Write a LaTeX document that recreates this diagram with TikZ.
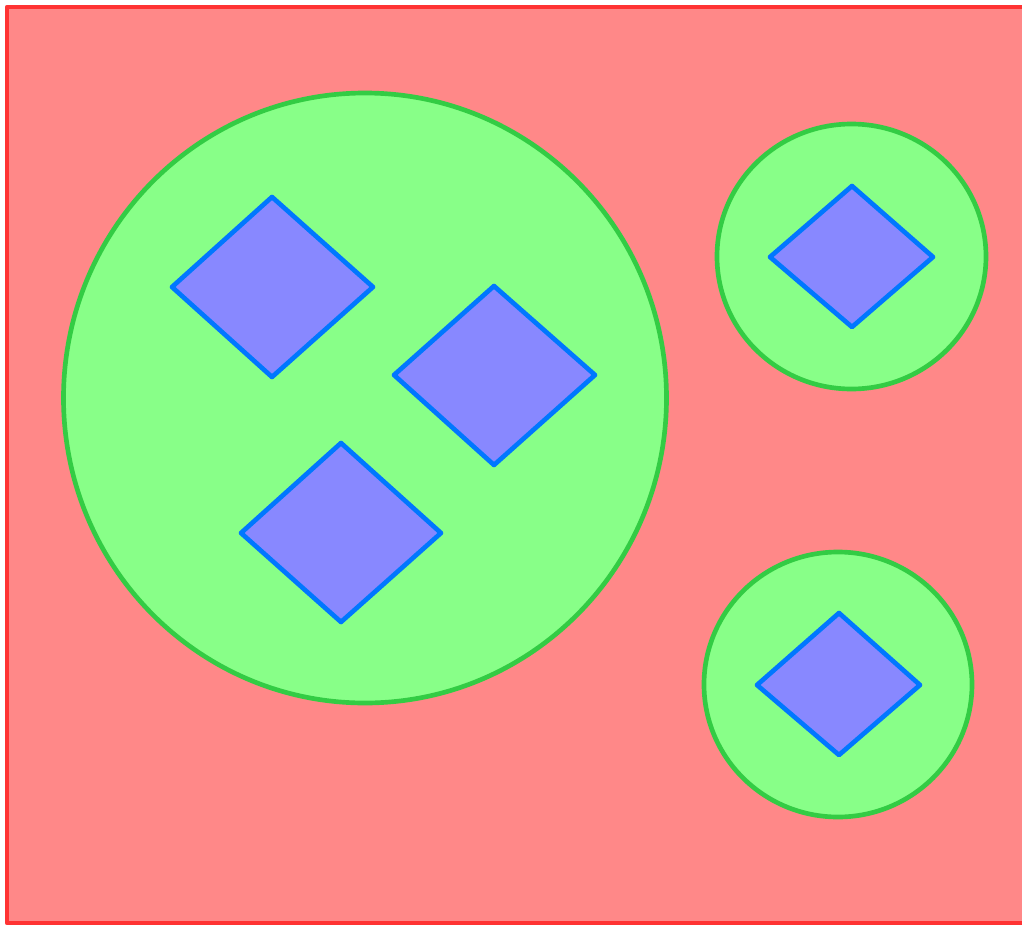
\documentclass[tikz,border=0pt]{standalone}
\definecolor{redfill}{HTML}{FF8888}
\definecolor{redline}{HTML}{FF3333}
\definecolor{greenfill}{HTML}{88FF88}
\definecolor{greenline}{HTML}{33CC44}
\definecolor{bluefill}{HTML}{8888FF}
\definecolor{blueline}{HTML}{0077FF}
\tikzset{
  outerbox/.style={fill=redfill, draw=redline, line width=3.5pt, line join=round},
  region/.style={fill=greenfill, draw=greenline, line width=3.5pt},
  rhomb/.style={fill=bluefill, draw=blueline, line width=3.5pt, line join=round},
}
\begin{document}
\begin{tikzpicture}[x=0.75pt, y=-0.75pt]
\useasboundingbox (0,0) rectangle (1022,925);
\clip (0,0) rectangle (1022,925);
\fill[white] (0,0) rectangle (1022,925);
\draw[outerbox] (7,7) rectangle (1040,923);
% circles
\draw[region] (365,398) ellipse [x radius=301.5, y radius=305];
\draw[region] (851.5,256.5) ellipse [x radius=134.5, y radius=132.5];
\draw[region] (838,684.5) ellipse [x radius=134, y radius=132.5];
% diamonds
\draw[rhomb] (172,287) -- (272,197) -- (373,287) -- (272,377) -- cycle;
\draw[rhomb] (394,375) -- (494,286) -- (595,375) -- (494,465) -- cycle;
\draw[rhomb] (241,533) -- (341,443) -- (441,533) -- (341,622) -- cycle;
\draw[rhomb] (770,257) -- (852,186) -- (933,257) -- (852,327) -- cycle;
\draw[rhomb] (757,685) -- (839,613) -- (920,685) -- (839,755) -- cycle;
\end{tikzpicture}
\end{document}
